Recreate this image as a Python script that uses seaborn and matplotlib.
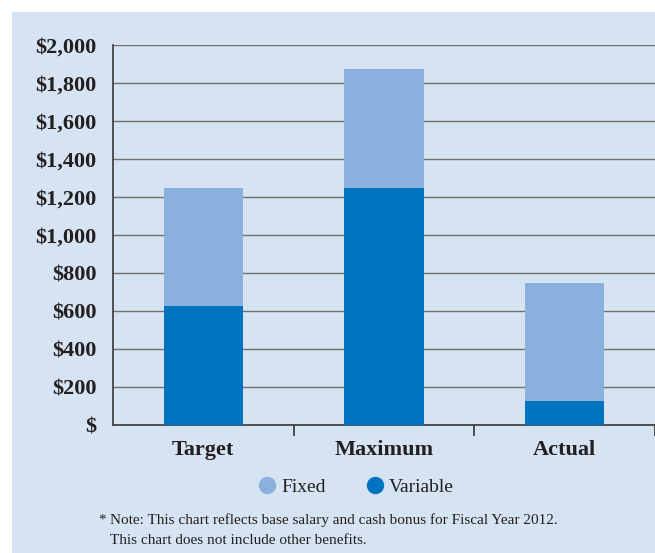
import pandas as pd
import seaborn as sns
import matplotlib.pyplot as plt
from matplotlib.lines import Line2D
from matplotlib.patches import Rectangle
from matplotlib.ticker import FuncFormatter

categories = ["Target", "Maximum", "Actual"]
fixed = [625, 625, 625]
variable = [625, 1250, 125]
y_ticks = [0, 200, 400, 600, 800, 1000, 1200, 1400, 1600, 1800, 2000]

df = pd.DataFrame({"category": categories, "fixed": fixed, "variable": variable})
df["total"] = df["fixed"] + df["variable"]

bg = "#d5e3f2"
c_fixed = "#8ab1dd"
c_var = "#0074bf"
txt = "#231f20"

sns.set_style("white")
plt.rcParams["font.family"] = ["Liberation Serif", "DejaVu Serif"]

fig = plt.figure(figsize=(6.55, 5.53), dpi=100)
fig.patches.append(Rectangle((12 / 655, 0), 1, 1 - 12 / 553, transform=fig.transFigure,
                             facecolor=bg, edgecolor="none", zorder=-10))
ax = fig.add_axes([113 / 655, 1 - 425 / 553, 1 - 113 / 655, (425 - 45) / 553])
ax.patch.set_alpha(0)

# stacked bars: total in light blue, variable part over it
sns.barplot(data=df, x="category", y="total", color=c_fixed, width=0.44,
            saturation=1, linewidth=0, ax=ax, zorder=3)
sns.barplot(data=df, x="category", y="variable", color=c_var, width=0.44,
            saturation=1, linewidth=0, ax=ax, zorder=4)

ax.set_ylim(0, 2000)
ax.set_xlim(-0.5, 2.5)
ax.set_yticks(y_ticks)
ax.yaxis.set_major_formatter(FuncFormatter(lambda v, p: "$" if v == 0 else f"${v:,.0f}"))
ax.grid(axis="y", color="#6f6f6f", lw=1, zorder=1)
ax.set_axisbelow(True)
ax.set_xlabel("")
ax.set_ylabel("")

for s in ["top", "right"]:
    ax.spines[s].set_visible(False)
for s in ["left", "bottom"]:
    ax.spines[s].set_color("#444444")
    ax.spines[s].set_linewidth(1.3)

ax.tick_params(axis="y", length=0, pad=12, labelsize=16, labelcolor=txt)
ax.tick_params(axis="x", which="major", length=0, pad=11, labelsize=16, labelcolor=txt)
for lab in ax.get_yticklabels() + ax.get_xticklabels():
    lab.set_fontweight("bold")
ax.set_xticks([0.5, 1.5, 2.5], minor=True)
ax.tick_params(axis="x", which="minor", bottom=True, length=8, width=1.2,
               color="#333333", direction="out")

handles = [
    Line2D([], [], marker="o", ls="", markersize=12.5, markerfacecolor=c_fixed,
           markeredgecolor="none", label="Fixed"),
    Line2D([], [], marker="o", ls="", markersize=12.5, markerfacecolor=c_var,
           markeredgecolor="none", label="Variable"),
]
fig.legend(handles=handles, loc="center", bbox_to_anchor=(0.543, 1 - 487 / 553), ncol=2,
           frameon=False, fontsize=14, handlelength=1.0, handletextpad=0.25,
           columnspacing=2.0, labelcolor=txt)

fig.text(98 / 655, 1 - 520 / 553, "*", fontsize=11, color=txt, va="center")
fig.text(110 / 655, 1 - 520 / 553, "Note: This chart reflects base salary and cash bonus for Fiscal Year 2012.",
         fontsize=11, color=txt, va="center")
fig.text(110 / 655, 1 - 540 / 553, "This chart does not include other benefits.",
         fontsize=11, color=txt, va="center")

plt.savefig("out.png", dpi=100)
